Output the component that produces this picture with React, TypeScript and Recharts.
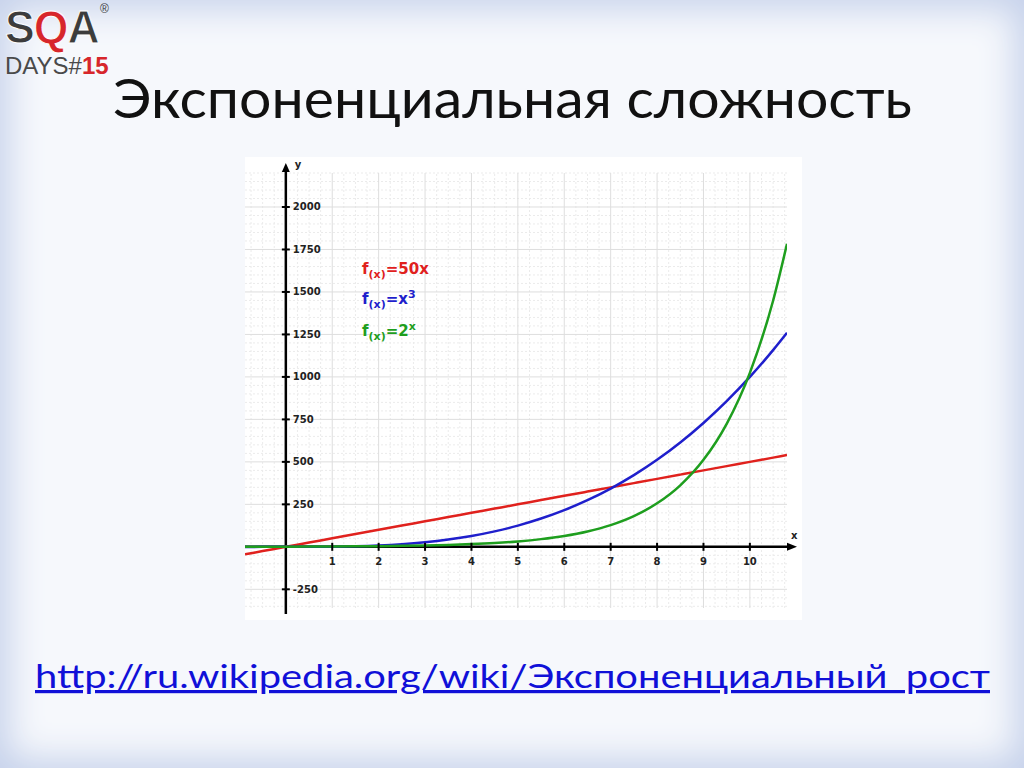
import React from "react";
import { LineChart, Line, XAxis, YAxis, ReferenceLine, ReferenceDot } from "recharts";

// sample points along x and the three curves read at those points
const xValues = [-0.88, -0.5, 0, 0.5, 1, 1.5, 2, 2.5, 3, 3.5, 4, 4.5, 5, 5.5, 6, 6.5, 7, 7.5, 8, 8.5, 9, 9.5, 10, 10.5, 10.8];
const linearValues = [-44, -25, 0, 25, 50, 75, 100, 125, 150, 175, 200, 225, 250, 275, 300, 325, 350, 375, 400, 425, 450, 475, 500, 525, 540];
const cubicValues = [-0.7, -0.1, 0, 0.1, 1, 3.4, 8, 15.6, 27, 42.9, 64, 91.1, 125, 166.4, 216, 274.6, 343, 421.9, 512, 614.1, 729, 857.4, 1000, 1157.6, 1259.7];
const expValues = [0.5, 0.7, 1, 1.4, 2, 2.8, 4, 5.7, 8, 11.3, 16, 22.6, 32, 45.3, 64, 90.5, 128, 181, 256, 362, 512, 724, 1024, 1448, 1783];

const xTickLabels = [1, 2, 3, 4, 5, 6, 7, 8, 9, 10];
const yTickLabels = [-250, 250, 500, 750, 1000, 1250, 1500, 1750, 2000];

const X_MIN = -0.88;
const X_MAX = 10.8;
const Y_MIN = -360;
const Y_MAX = 2200;

// grid: solid lines on whole units, dotted in between
const majorX = [1, 2, 3, 4, 5, 6, 7, 8, 9, 10];
const minorX = Array.from({ length: 47 }, (_, i) => -0.75 + i * 0.25).filter((v) => v % 1 !== 0);
const majorY = [-250, 250, 500, 750, 1000, 1250, 1500, 1750, 2000];
const minorY = Array.from({ length: 52 }, (_, i) => -350 + i * 50).filter((v) => v % 250 !== 0);

const data = xValues.map((x, i) => ({
  x,
  linear: linearValues[i],
  cubic: cubicValues[i],
  exp: expValues[i],
}));

const RED = "#e0211d";
const BLUE = "#1f1fcc";
const GREEN = "#1e9e1e";

const tickFont = { fontFamily: "DejaVu Sans", fontSize: 10, fontWeight: 700, fill: "#222" };

function FormulaLegend() {
  const sup = (s: string) => <span style={{ fontSize: 11, position: "relative", top: -6 }}>{s}</span>;
  const row = (color: string, top: number, rhs: React.ReactNode) => (
    <div
      style={{
        position: "absolute",
        left: 117,
        top,
        color,
        fontFamily: "DejaVu Sans",
        fontWeight: 700,
        fontSize: 15,
        lineHeight: "16px",
        whiteSpace: "nowrap",
      }}
    >
      f<span style={{ fontSize: 11, position: "relative", top: 4 }}>(x)</span>={rhs}
    </div>
  );
  return (
    <>
      {row(RED, 104, "50x")}
      {row(BLUE, 134, <>x{sup("3")}</>)}
      {row(GREEN, 166, <>2{sup("x")}</>)}
    </>
  );
}

function Logo() {
  const face = "'Liberation Sans'";
  return (
    <>
      <div
        style={{
          position: "absolute",
          left: 5,
          top: 0,
          fontFamily: face,
          fontWeight: 700,
          fontSize: 46,
          letterSpacing: -1,
          color: "#3c3c3c",
          WebkitTextStroke: "1px #fff",
          whiteSpace: "nowrap",
          transform: "scaleX(0.97)",
          transformOrigin: "left top",
        }}
      >
        S<span style={{ color: "#d7262b" }}>Q</span>A
      </div>
      <div style={{ position: "absolute", left: 100, top: 3, fontFamily: face, fontSize: 12, lineHeight: "12px", color: "#3c3c3c" }}>
        ®
      </div>
      <div
        style={{
          position: "absolute",
          left: 5,
          top: 52,
          fontFamily: face,
          fontSize: 24,
          color: "#4a4a4a",
          whiteSpace: "nowrap",
        }}
      >
        DAYS#<span style={{ color: "#d7262b", fontWeight: 700 }}>15</span>
      </div>
    </>
  );
}

function GrowthChart() {
  return (
    <div style={{ position: "absolute", left: 245, top: 157, width: 557, height: 463, background: "#fff" }}>
      <LineChart width={557} height={463} data={data} margin={{ top: 16, right: 15, bottom: 12, left: 0 }}>
        <XAxis type="number" dataKey="x" domain={[X_MIN, X_MAX]} hide allowDataOverflow />
        <YAxis type="number" domain={[Y_MIN, Y_MAX]} hide allowDataOverflow />

        {minorX.map((v) => (
          <ReferenceLine key={"mx" + v} x={v} stroke="#ebebeb" strokeDasharray="2 2" />
        ))}
        {minorY.map((v) => (
          <ReferenceLine key={"my" + v} y={v} stroke="#ebebeb" strokeDasharray="2 2" />
        ))}
        {majorX.map((v) => (
          <ReferenceLine key={"MX" + v} x={v} stroke="#dedede" />
        ))}
        {majorY.map((v) => (
          <ReferenceLine key={"MY" + v} y={v} stroke="#dedede" />
        ))}

        {/* axes through the origin */}
        <ReferenceLine x={0} stroke="#000" strokeWidth={2.5} />
        <ReferenceLine y={0} stroke="#000" strokeWidth={2.5} />
        <ReferenceDot
          x={0}
          y={Y_MAX}
          ifOverflow="visible"
          shape={(p: any) => (
            <g>
              <line x1={p.cx} y1={p.cy} x2={p.cx} y2={p.cy - 3} stroke="#000" strokeWidth={2.5} />
              <polygon points={`${p.cx - 4},${p.cy - 1} ${p.cx + 4},${p.cy - 1} ${p.cx},${p.cy - 10}`} fill="#000" />
              <text x={p.cx + 9} y={p.cy - 9} {...tickFont} dominantBaseline="central">y</text>
            </g>
          )}
        />
        <ReferenceDot
          x={X_MAX}
          y={0}
          ifOverflow="visible"
          shape={(p: any) => (
            <g>
              <polygon points={`${p.cx},${p.cy - 4} ${p.cx},${p.cy + 4} ${p.cx + 10},${p.cy}`} fill="#000" />
              <text x={p.cx + 4} y={p.cy - 11} {...tickFont} dominantBaseline="central">x</text>
            </g>
          )}
        />
        <ReferenceDot
          x={0}
          y={Y_MIN}
          ifOverflow="visible"
          shape={(p: any) => <line x1={p.cx} y1={p.cy} x2={p.cx} y2={p.cy + 6} stroke="#000" strokeWidth={2.5} />}
        />

        {yTickLabels.map((v) => (
          <ReferenceDot
            key={"yt" + v}
            x={0}
            y={v}
            ifOverflow="visible"
            shape={(p: any) => (
              <g>
                <line x1={p.cx - 4} y1={p.cy} x2={p.cx + 4} y2={p.cy} stroke="#000" strokeWidth={2} />
                <text x={p.cx + 7} y={p.cy} {...tickFont} dominantBaseline="central">{v}</text>
              </g>
            )}
          />
        ))}
        {xTickLabels.map((v) => (
          <ReferenceDot
            key={"xt" + v}
            x={v}
            y={0}
            ifOverflow="visible"
            shape={(p: any) => (
              <g>
                <line x1={p.cx} y1={p.cy - 4} x2={p.cx} y2={p.cy + 4} stroke="#000" strokeWidth={2} />
                <text x={p.cx} y={p.cy + 18} {...tickFont} textAnchor="middle">{v}</text>
              </g>
            )}
          />
        ))}

        <Line type="monotone" dataKey="linear" stroke={RED} strokeWidth={2.5} dot={false} isAnimationActive={false} />
        <Line type="monotone" dataKey="cubic" stroke={BLUE} strokeWidth={2.5} dot={false} isAnimationActive={false} />
        <Line type="monotone" dataKey="exp" stroke={GREEN} strokeWidth={2.5} dot={false} isAnimationActive={false} />
      </LineChart>
      <FormulaLegend />
    </div>
  );
}

export default function App() {
  return (
    <div
      style={{
        position: "absolute",
        left: 0,
        top: 0,
        width: 1024,
        height: 768,
        overflow: "hidden",
        background: "#f6f8fc",
        boxShadow: "inset 0 0 36px 8px #c4d0ea",
      }}
    >
      <Logo />
      <svg width={1024} height={768} style={{ position: "absolute", left: 0, top: 0 }}>
        <text x={113} y={118} fontFamily="Lato, 'Open Sans'" fontSize={55} textLength={799} lengthAdjust="spacingAndGlyphs" fill="#111">
          Экспоненциальная сложность
        </text>
        <text x={35} y={688} fontFamily="Lato, 'Open Sans'" fontSize={32} textLength={955} lengthAdjust="spacingAndGlyphs" fill="#1010d8" style={{ textDecoration: "underline" }}>
          http://ru.wikipedia.org/wiki/Экспоненциальный_рост
        </text>
      </svg>
      <GrowthChart />
    </div>
  );
}
